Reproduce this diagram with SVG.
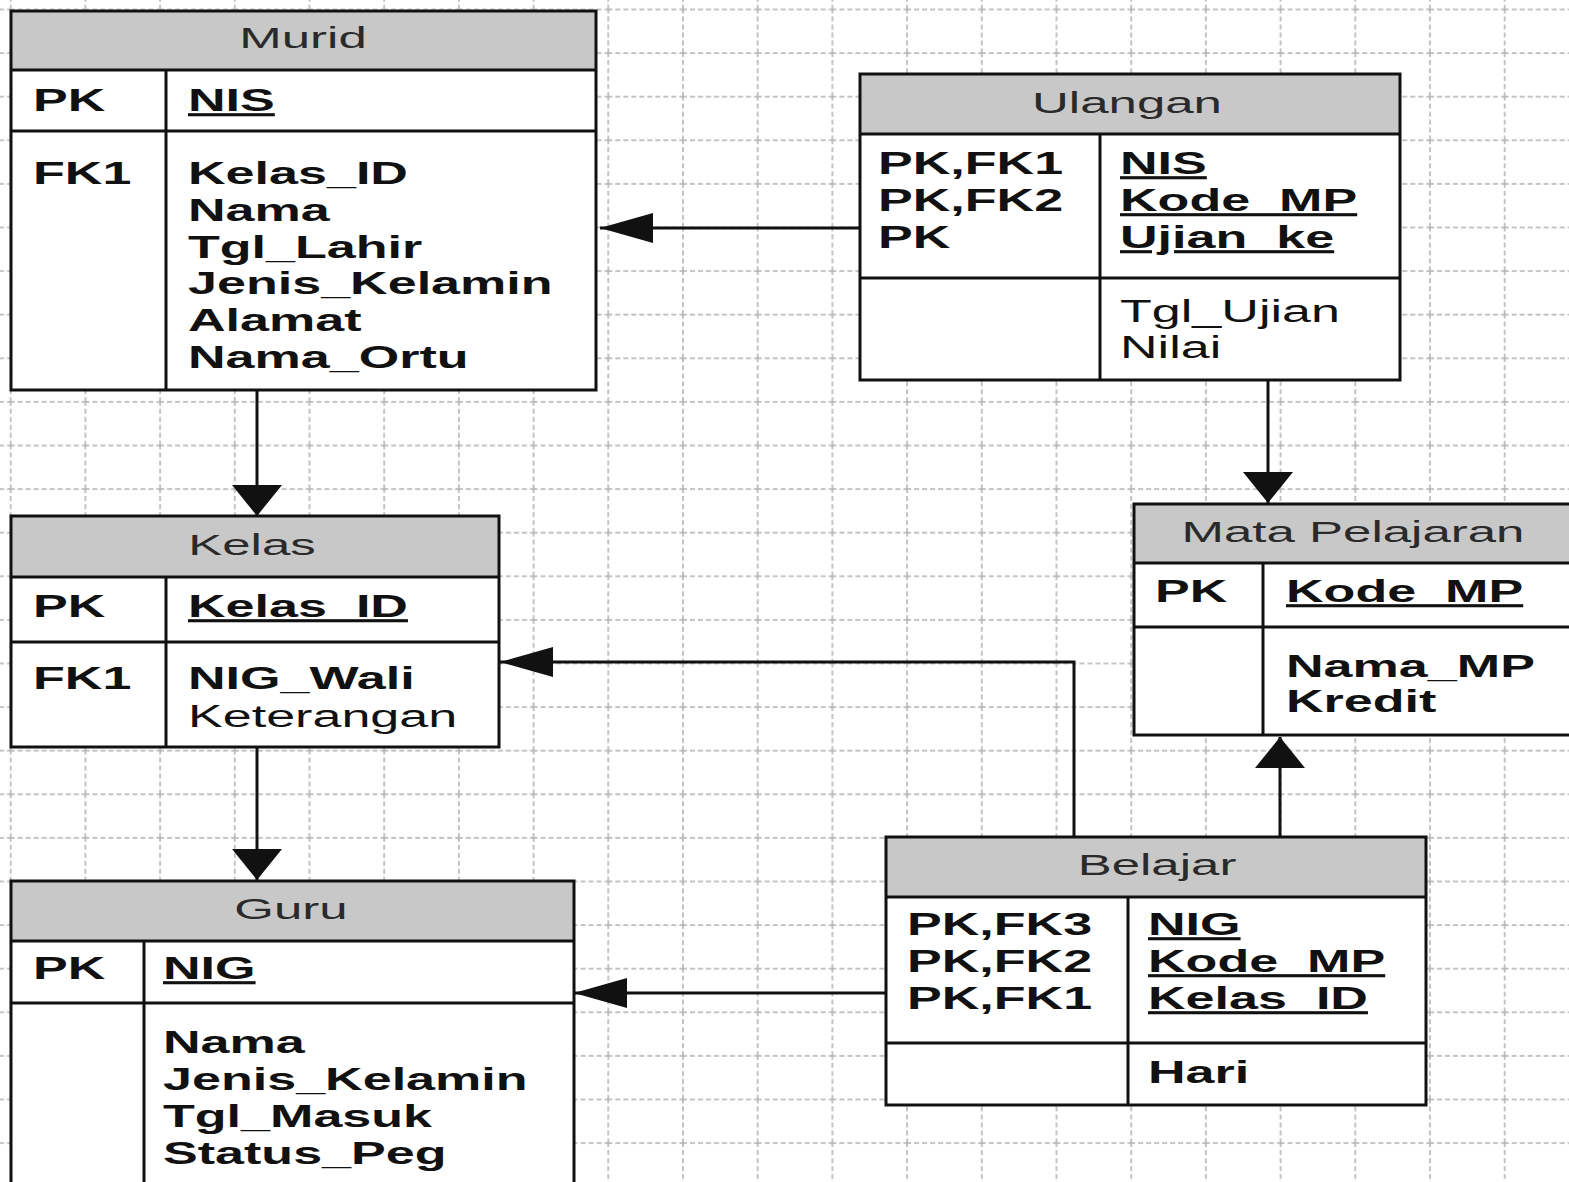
<svg xmlns="http://www.w3.org/2000/svg" width="1569" height="1182" viewBox="0 0 1569 1182">
<style>
.bg{fill:#ffffff}
.grid{fill:url(#grid)}
.hdr{fill:#c8c8c8}
.body{fill:#ffffff}
.frame{fill:none;stroke:#111;stroke-width:3}
.ln{stroke:#111;stroke-width:3}
.conn{fill:none;stroke:#111;stroke-width:3}
.t{font-family:"Liberation Sans",Arial,sans-serif;font-size:30px;fill:#2a2a2a;text-anchor:middle}
.b{font-family:"Liberation Sans",Arial,sans-serif;font-size:31px;font-weight:bold;fill:#111}
.r{font-family:"Liberation Sans",Arial,sans-serif;font-size:31px;fill:#111}
.u{text-decoration:underline}
</style>
<defs>
<pattern id="grid" patternUnits="userSpaceOnUse" x="9.7" y="8.5" width="74.7" height="43.6">
<line x1="1" y1="0" x2="1" y2="43.6" stroke="#b0b0b0" stroke-width="1.5" stroke-dasharray="5 3"/>
<line x1="0" y1="1" x2="74.7" y2="1" stroke="#b0b0b0" stroke-width="1.5" stroke-dasharray="5 3"/>
</pattern>
<marker id="arrH" viewBox="0 0 53 30" refX="53" refY="15" markerWidth="53" markerHeight="30" markerUnits="userSpaceOnUse" orient="auto">
<path d="M0,0 L53,15 L0,30 z" fill="#111"/>
</marker>
<marker id="arrV" viewBox="0 0 31 50" refX="31" refY="25" markerWidth="31" markerHeight="50" markerUnits="userSpaceOnUse" orient="auto">
<path d="M0,0 L31,25 L0,50 z" fill="#111"/>
</marker>
</defs>
<rect class="bg" x="0" y="0" width="1569" height="1182"/>
<rect class="grid" x="0" y="0" width="1569" height="1182"/>

<g id="connectors">
<path class="conn" d="M860,228 H600" marker-end="url(#arrH)"/>
<path class="conn" d="M257,390 V516" marker-end="url(#arrV)"/>
<path class="conn" d="M257,747 V880" marker-end="url(#arrV)"/>
<path class="conn" d="M1268,380 V503" marker-end="url(#arrV)"/>
<path class="conn" d="M1280,837 V737" marker-end="url(#arrV)"/>
<path class="conn" d="M1074,837 V662 H500" marker-end="url(#arrH)"/>
<path class="conn" d="M886,993 H574" marker-end="url(#arrH)"/>
</g>

<g id="murid">
<rect class="body" x="11" y="11" width="585" height="379"/>
<rect class="hdr" x="11" y="11" width="585" height="59"/>
<line class="ln" x1="11" y1="70" x2="596" y2="70"/>
<line class="ln" x1="11" y1="131" x2="596" y2="131"/>
<line class="ln" x1="166" y1="70" x2="166" y2="390"/>
<rect class="frame" x="11" y="11" width="585" height="379"/>
<g transform="translate(303,48) scale(1.7,1)"><text class="t" x="0" y="0">Murid</text></g>
<g transform="translate(33,111) scale(1.68,1)"><text class="b" x="0" y="0">PK</text></g>
<g transform="translate(188,111) scale(1.68,1)"><text class="b u" x="0" y="0">NIS</text></g>
<g transform="translate(33,184) scale(1.68,1)"><text class="b" x="0" y="0">FK1</text></g>
<g transform="translate(188,184) scale(1.68,1)"><text class="b" x="0" y="0"><tspan x="0" dy="0">Kelas_ID</tspan><tspan x="0" dy="36.8">Nama</tspan><tspan x="0" dy="36.8">Tgl_Lahir</tspan><tspan x="0" dy="36.8">Jenis_Kelamin</tspan><tspan x="0" dy="36.8">Alamat</tspan><tspan x="0" dy="36.8">Nama_Ortu</tspan></text></g>
</g>

<g id="ulangan">
<rect class="body" x="860" y="74" width="540" height="306"/>
<rect class="hdr" x="860" y="74" width="540" height="60"/>
<line class="ln" x1="860" y1="134" x2="1400" y2="134"/>
<line class="ln" x1="860" y1="278" x2="1400" y2="278"/>
<line class="ln" x1="1100" y1="134" x2="1100" y2="380"/>
<rect class="frame" x="860" y="74" width="540" height="306"/>
<g transform="translate(1127,113) scale(1.7,1)"><text class="t" x="0" y="0">Ulangan</text></g>
<g transform="translate(878,174) scale(1.68,1)"><text class="b" x="0" y="0"><tspan x="0" dy="0">PK,FK1</tspan><tspan x="0" dy="37">PK,FK2</tspan><tspan x="0" dy="37">PK</tspan></text></g>
<g transform="translate(1120,174) scale(1.68,1)"><text class="b u" x="0" y="0"><tspan x="0" dy="0">NIS</tspan><tspan x="0" dy="37">Kode_MP</tspan><tspan x="0" dy="37">Ujian_ke</tspan></text></g>
<g transform="translate(1120,322) scale(1.68,1)"><text class="r" x="0" y="0"><tspan x="0" dy="0">Tgl_Ujian</tspan><tspan x="0" dy="36">Nilai</tspan></text></g>
</g>

<g id="mata-pelajaran">
<rect class="body" x="1134" y="504" width="450" height="231"/>
<rect class="hdr" x="1134" y="504" width="450" height="59"/>
<line class="ln" x1="1134" y1="563" x2="1584" y2="563"/>
<line class="ln" x1="1134" y1="627" x2="1584" y2="627"/>
<line class="ln" x1="1263" y1="563" x2="1263" y2="735"/>
<rect class="frame" x="1134" y="504" width="450" height="231"/>
<g transform="translate(1353,542) scale(1.7,1)"><text class="t" x="0" y="0">Mata Pelajaran</text></g>
<g transform="translate(1155,602) scale(1.68,1)"><text class="b" x="0" y="0">PK</text></g>
<g transform="translate(1286,602) scale(1.68,1)"><text class="b u" x="0" y="0">Kode_MP</text></g>
<g transform="translate(1286,677) scale(1.68,1)"><text class="b" x="0" y="0"><tspan x="0" dy="0">Nama_MP</tspan><tspan x="0" dy="35">Kredit</tspan></text></g>
</g>

<g id="kelas">
<rect class="body" x="11" y="516" width="488" height="231"/>
<rect class="hdr" x="11" y="516" width="488" height="61"/>
<line class="ln" x1="11" y1="577" x2="499" y2="577"/>
<line class="ln" x1="11" y1="642" x2="499" y2="642"/>
<line class="ln" x1="166" y1="577" x2="166" y2="747"/>
<rect class="frame" x="11" y="516" width="488" height="231"/>
<g transform="translate(252,555) scale(1.7,1)"><text class="t" x="0" y="0">Kelas</text></g>
<g transform="translate(33,617) scale(1.68,1)"><text class="b" x="0" y="0">PK</text></g>
<g transform="translate(188,617) scale(1.68,1)"><text class="b u" x="0" y="0">Kelas_ID</text></g>
<g transform="translate(33,689) scale(1.68,1)"><text class="b" x="0" y="0">FK1</text></g>
<g transform="translate(188,689) scale(1.68,1)"><text class="b" x="0" y="0">NIG_Wali</text></g>
<g transform="translate(188,727) scale(1.68,1)"><text class="r" x="0" y="0">Keterangan</text></g>
</g>

<g id="guru">
<rect class="body" x="11" y="881" width="563" height="320"/>
<rect class="hdr" x="11" y="881" width="563" height="60"/>
<line class="ln" x1="11" y1="941" x2="574" y2="941"/>
<line class="ln" x1="11" y1="1003" x2="574" y2="1003"/>
<line class="ln" x1="144" y1="941" x2="144" y2="1201"/>
<rect class="frame" x="11" y="881" width="563" height="320"/>
<g transform="translate(291,919) scale(1.7,1)"><text class="t" x="0" y="0">Guru</text></g>
<g transform="translate(33,979) scale(1.68,1)"><text class="b" x="0" y="0">PK</text></g>
<g transform="translate(163,979) scale(1.68,1)"><text class="b u" x="0" y="0">NIG</text></g>
<g transform="translate(163,1053) scale(1.68,1)"><text class="b" x="0" y="0"><tspan x="0" dy="0">Nama</tspan><tspan x="0" dy="37">Jenis_Kelamin</tspan><tspan x="0" dy="37">Tgl_Masuk</tspan><tspan x="0" dy="37">Status_Peg</tspan></text></g>
</g>

<g id="belajar">
<rect class="body" x="886" y="837" width="540" height="268"/>
<rect class="hdr" x="886" y="837" width="540" height="60"/>
<line class="ln" x1="886" y1="897" x2="1426" y2="897"/>
<line class="ln" x1="886" y1="1043" x2="1426" y2="1043"/>
<line class="ln" x1="1128" y1="897" x2="1128" y2="1105"/>
<rect class="frame" x="886" y="837" width="540" height="268"/>
<g transform="translate(1157,875) scale(1.7,1)"><text class="t" x="0" y="0">Belajar</text></g>
<g transform="translate(907,935) scale(1.68,1)"><text class="b" x="0" y="0"><tspan x="0" dy="0">PK,FK3</tspan><tspan x="0" dy="37">PK,FK2</tspan><tspan x="0" dy="37">PK,FK1</tspan></text></g>
<g transform="translate(1148,935) scale(1.68,1)"><text class="b u" x="0" y="0"><tspan x="0" dy="0">NIG</tspan><tspan x="0" dy="37">Kode_MP</tspan><tspan x="0" dy="37">Kelas_ID</tspan></text></g>
<g transform="translate(1148,1083) scale(1.68,1)"><text class="b" x="0" y="0">Hari</text></g>
</g>
</svg>
